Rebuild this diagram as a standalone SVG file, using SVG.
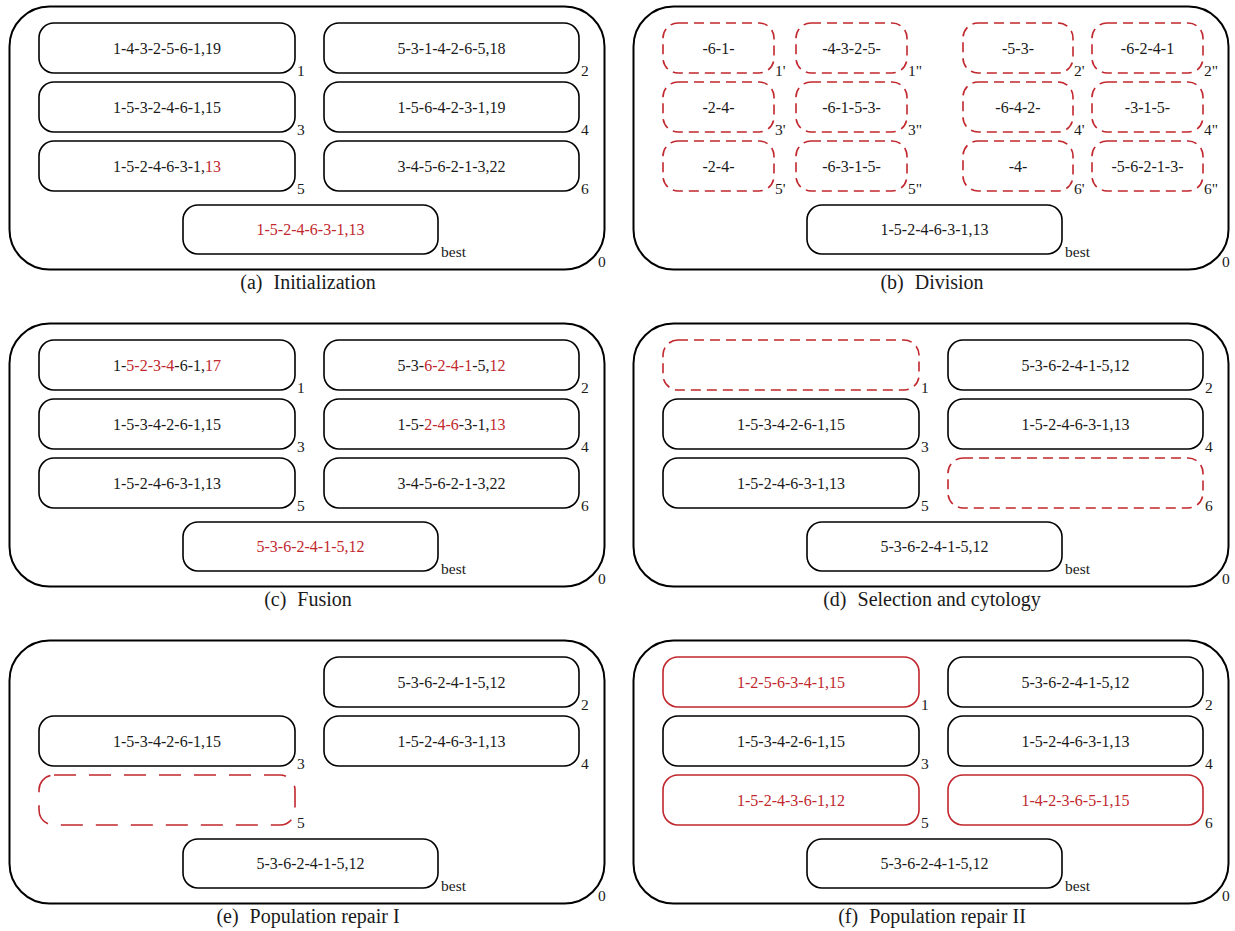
<svg xmlns="http://www.w3.org/2000/svg" width="1235" height="931" viewBox="0 0 1235 931" font-family="'Liberation Serif', 'DejaVu Serif', serif">
<style>
.outer{fill:none;stroke:#000;stroke-width:2}
.box{fill:#fff;stroke:#000;stroke-width:1.6}
.dash{fill:#fff;stroke:#c1272d;stroke-width:1.6;stroke-dasharray:10 6}
.dashlong{fill:#fff;stroke:#c1272d;stroke-width:1.6;stroke-dasharray:22 13}
.redbox{fill:#fff;stroke:#c1272d;stroke-width:1.6}
text{font-family:'Liberation Serif','DejaVu Serif',serif;fill:#1a1a1a}
.t{font-size:16px;text-anchor:middle}
.lbl{font-size:15.5px}
.cap{font-size:20px;text-anchor:middle}
.r{fill:#c1272d}
</style>
<g id="connectors"></g>

<!-- (a) Initialization -->
<g id="panel-a">
  <rect class="outer" x="9.5" y="6.5" width="595" height="263" rx="40"/>
  <text class="lbl" x="598" y="267">0</text>
  <g id="a-n1"><rect class="box" x="39" y="23" width="256" height="50" rx="15"/><text class="t" x="167" y="53.5">1-4-3-2-5-6-1,19</text><text class="lbl" x="297" y="76">1</text></g>
  <g id="a-n2"><rect class="box" x="324" y="23" width="255" height="50" rx="15"/><text class="t" x="451.5" y="53.5">5-3-1-4-2-6-5,18</text><text class="lbl" x="581" y="76">2</text></g>
  <g id="a-n3"><rect class="box" x="39" y="82" width="256" height="50" rx="15"/><text class="t" x="167" y="112.5">1-5-3-2-4-6-1,15</text><text class="lbl" x="297" y="135">3</text></g>
  <g id="a-n4"><rect class="box" x="324" y="82" width="255" height="50" rx="15"/><text class="t" x="451.5" y="112.5">1-5-6-4-2-3-1,19</text><text class="lbl" x="581" y="135">4</text></g>
  <g id="a-n5"><rect class="box" x="39" y="141" width="256" height="50" rx="15"/><text class="t" x="167" y="171.5">1-5-2-4-6-3-1,<tspan class="r">13</tspan></text><text class="lbl" x="297" y="194">5</text></g>
  <g id="a-n6"><rect class="box" x="324" y="141" width="255" height="50" rx="15"/><text class="t" x="451.5" y="171.5">3-4-5-6-2-1-3,22</text><text class="lbl" x="581" y="194">6</text></g>
  <g id="a-best"><rect class="box" x="183" y="205" width="255" height="49" rx="15"/><text class="t r" x="310.5" y="235">1-5-2-4-6-3-1,13</text><text class="lbl" x="441" y="257">best</text></g>
  <text class="cap" x="308" y="289">(a)<tspan dx="6"> Initialization</tspan></text>
</g>

<!-- (b) Division -->
<g id="panel-b" transform="translate(624,0)">
  <rect class="outer" x="9.5" y="6.5" width="595" height="263" rx="40"/>
  <text class="lbl" x="598" y="267">0</text>
  <g id="b-n1a"><rect class="dash" x="39" y="23" width="111" height="50" rx="15"/><text class="t" x="94.5" y="53.5">-6-1-</text><text class="lbl" x="151" y="76">1'</text></g>
  <g id="b-n1b"><rect class="dash" x="172" y="23" width="111" height="50" rx="15"/><text class="t" x="227.5" y="53.5">-4-3-2-5-</text><text class="lbl" x="284" y="76">1"</text></g>
  <g id="b-n2a"><rect class="dash" x="339" y="23" width="110" height="50" rx="15"/><text class="t" x="394" y="53.5">-5-3-</text><text class="lbl" x="450" y="76">2'</text></g>
  <g id="b-n2b"><rect class="dash" x="468" y="23" width="111" height="50" rx="15"/><text class="t" x="523.5" y="53.5">-6-2-4-1</text><text class="lbl" x="580" y="76">2"</text></g>
  <g id="b-n3a"><rect class="dash" x="39" y="82" width="111" height="50" rx="15"/><text class="t" x="94.5" y="112.5">-2-4-</text><text class="lbl" x="151" y="135">3'</text></g>
  <g id="b-n3b"><rect class="dash" x="172" y="82" width="111" height="50" rx="15"/><text class="t" x="227.5" y="112.5">-6-1-5-3-</text><text class="lbl" x="284" y="135">3"</text></g>
  <g id="b-n4a"><rect class="dash" x="339" y="82" width="110" height="50" rx="15"/><text class="t" x="394" y="112.5">-6-4-2-</text><text class="lbl" x="450" y="135">4'</text></g>
  <g id="b-n4b"><rect class="dash" x="468" y="82" width="111" height="50" rx="15"/><text class="t" x="523.5" y="112.5">-3-1-5-</text><text class="lbl" x="580" y="135">4"</text></g>
  <g id="b-n5a"><rect class="dash" x="39" y="141" width="111" height="50" rx="15"/><text class="t" x="94.5" y="171.5">-2-4-</text><text class="lbl" x="151" y="194">5'</text></g>
  <g id="b-n5b"><rect class="dash" x="172" y="141" width="111" height="50" rx="15"/><text class="t" x="227.5" y="171.5">-6-3-1-5-</text><text class="lbl" x="284" y="194">5"</text></g>
  <g id="b-n6a"><rect class="dash" x="339" y="141" width="110" height="50" rx="15"/><text class="t" x="394" y="171.5">-4-</text><text class="lbl" x="450" y="194">6'</text></g>
  <g id="b-n6b"><rect class="dash" x="468" y="141" width="111" height="50" rx="15"/><text class="t" x="523.5" y="171.5">-5-6-2-1-3-</text><text class="lbl" x="580" y="194">6"</text></g>
  <g id="b-best"><rect class="box" x="183" y="205" width="255" height="49" rx="15"/><text class="t" x="310.5" y="235">1-5-2-4-6-3-1,13</text><text class="lbl" x="441" y="257">best</text></g>
  <text class="cap" x="308" y="289">(b)<tspan dx="6"> Division</tspan></text>
</g>

<!-- (c) Fusion -->
<g id="panel-c" transform="translate(0,317)">
  <rect class="outer" x="9.5" y="6.5" width="595" height="263" rx="40"/>
  <text class="lbl" x="598" y="267">0</text>
  <g id="c-n1"><rect class="box" x="39" y="23" width="256" height="50" rx="15"/><text class="t" x="167" y="53.5">1-<tspan class="r">5-2-3-4</tspan>-6-1,<tspan class="r">17</tspan></text><text class="lbl" x="297" y="76">1</text></g>
  <g id="c-n2"><rect class="box" x="324" y="23" width="255" height="50" rx="15"/><text class="t" x="451.5" y="53.5">5-3-<tspan class="r">6-2-4-1</tspan>-5,<tspan class="r">12</tspan></text><text class="lbl" x="581" y="76">2</text></g>
  <g id="c-n3"><rect class="box" x="39" y="82" width="256" height="50" rx="15"/><text class="t" x="167" y="112.5">1-5-3-4-2-6-1,15</text><text class="lbl" x="297" y="135">3</text></g>
  <g id="c-n4"><rect class="box" x="324" y="82" width="255" height="50" rx="15"/><text class="t" x="451.5" y="112.5">1-5-<tspan class="r">2-4-6</tspan>-3-1,<tspan class="r">13</tspan></text><text class="lbl" x="581" y="135">4</text></g>
  <g id="c-n5"><rect class="box" x="39" y="141" width="256" height="50" rx="15"/><text class="t" x="167" y="171.5">1-5-2-4-6-3-1,13</text><text class="lbl" x="297" y="194">5</text></g>
  <g id="c-n6"><rect class="box" x="324" y="141" width="255" height="50" rx="15"/><text class="t" x="451.5" y="171.5">3-4-5-6-2-1-3,22</text><text class="lbl" x="581" y="194">6</text></g>
  <g id="c-best"><rect class="box" x="183" y="205" width="255" height="49" rx="15"/><text class="t r" x="310.5" y="235">5-3-6-2-4-1-5,12</text><text class="lbl" x="441" y="257">best</text></g>
  <text class="cap" x="308" y="289">(c)<tspan dx="6"> Fusion</tspan></text>
</g>

<!-- (d) Selection and cytology -->
<g id="panel-d" transform="translate(624,317)">
  <rect class="outer" x="9.5" y="6.5" width="595" height="263" rx="40"/>
  <text class="lbl" x="598" y="267">0</text>
  <g id="d-n1"><rect class="dash" x="39" y="23" width="256" height="50" rx="15"/><text class="lbl" x="297" y="76">1</text></g>
  <g id="d-n2"><rect class="box" x="324" y="23" width="255" height="50" rx="15"/><text class="t" x="451.5" y="53.5">5-3-6-2-4-1-5,12</text><text class="lbl" x="581" y="76">2</text></g>
  <g id="d-n3"><rect class="box" x="39" y="82" width="256" height="50" rx="15"/><text class="t" x="167" y="112.5">1-5-3-4-2-6-1,15</text><text class="lbl" x="297" y="135">3</text></g>
  <g id="d-n4"><rect class="box" x="324" y="82" width="255" height="50" rx="15"/><text class="t" x="451.5" y="112.5">1-5-2-4-6-3-1,13</text><text class="lbl" x="581" y="135">4</text></g>
  <g id="d-n5"><rect class="box" x="39" y="141" width="256" height="50" rx="15"/><text class="t" x="167" y="171.5">1-5-2-4-6-3-1,13</text><text class="lbl" x="297" y="194">5</text></g>
  <g id="d-n6"><rect class="dash" x="324" y="141" width="255" height="50" rx="15"/><text class="lbl" x="581" y="194">6</text></g>
  <g id="d-best"><rect class="box" x="183" y="205" width="255" height="49" rx="15"/><text class="t" x="310.5" y="235">5-3-6-2-4-1-5,12</text><text class="lbl" x="441" y="257">best</text></g>
  <text class="cap" x="308" y="289">(d)<tspan dx="6"> Selection and cytology</tspan></text>
</g>

<!-- (e) Population repair I -->
<g id="panel-e" transform="translate(0,634)">
  <rect class="outer" x="9.5" y="6.5" width="595" height="263" rx="40"/>
  <text class="lbl" x="598" y="267">0</text>
  <g id="e-n2"><rect class="box" x="324" y="23" width="255" height="50" rx="15"/><text class="t" x="451.5" y="53.5">5-3-6-2-4-1-5,12</text><text class="lbl" x="581" y="76">2</text></g>
  <g id="e-n3"><rect class="box" x="39" y="82" width="256" height="50" rx="15"/><text class="t" x="167" y="112.5">1-5-3-4-2-6-1,15</text><text class="lbl" x="297" y="135">3</text></g>
  <g id="e-n4"><rect class="box" x="324" y="82" width="255" height="50" rx="15"/><text class="t" x="451.5" y="112.5">1-5-2-4-6-3-1,13</text><text class="lbl" x="581" y="135">4</text></g>
  <g id="e-n5"><rect class="dashlong" x="39" y="141" width="256" height="50" rx="15"/><text class="lbl" x="297" y="194">5</text></g>
  <g id="e-best"><rect class="box" x="183" y="205" width="255" height="49" rx="15"/><text class="t" x="310.5" y="235">5-3-6-2-4-1-5,12</text><text class="lbl" x="441" y="257">best</text></g>
  <text class="cap" x="308" y="289">(e)<tspan dx="6"> Population repair I</tspan></text>
</g>

<!-- (f) Population repair II -->
<g id="panel-f" transform="translate(624,634)">
  <rect class="outer" x="9.5" y="6.5" width="595" height="263" rx="40"/>
  <text class="lbl" x="598" y="267">0</text>
  <g id="f-n1"><rect class="redbox" x="39" y="23" width="256" height="50" rx="15"/><text class="t r" x="167" y="53.5">1-2-5-6-3-4-1,15</text><text class="lbl" x="297" y="76">1</text></g>
  <g id="f-n2"><rect class="box" x="324" y="23" width="255" height="50" rx="15"/><text class="t" x="451.5" y="53.5">5-3-6-2-4-1-5,12</text><text class="lbl" x="581" y="76">2</text></g>
  <g id="f-n3"><rect class="box" x="39" y="82" width="256" height="50" rx="15"/><text class="t" x="167" y="112.5">1-5-3-4-2-6-1,15</text><text class="lbl" x="297" y="135">3</text></g>
  <g id="f-n4"><rect class="box" x="324" y="82" width="255" height="50" rx="15"/><text class="t" x="451.5" y="112.5">1-5-2-4-6-3-1,13</text><text class="lbl" x="581" y="135">4</text></g>
  <g id="f-n5"><rect class="redbox" x="39" y="141" width="256" height="50" rx="15"/><text class="t r" x="167" y="171.5">1-5-2-4-3-6-1,12</text><text class="lbl" x="297" y="194">5</text></g>
  <g id="f-n6"><rect class="redbox" x="324" y="141" width="255" height="50" rx="15"/><text class="t r" x="451.5" y="171.5">1-4-2-3-6-5-1,15</text><text class="lbl" x="581" y="194">6</text></g>
  <g id="f-best"><rect class="box" x="183" y="205" width="255" height="49" rx="15"/><text class="t" x="310.5" y="235">5-3-6-2-4-1-5,12</text><text class="lbl" x="441" y="257">best</text></g>
  <text class="cap" x="308" y="289">(f)<tspan dx="6"> Population repair II</tspan></text>
</g>
</svg>
